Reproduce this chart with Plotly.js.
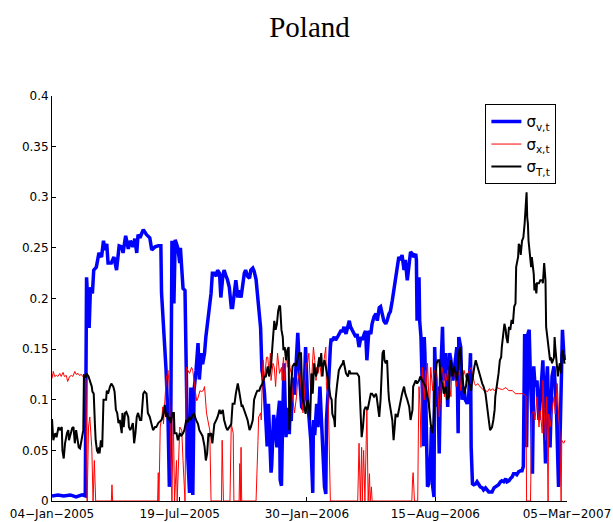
<!DOCTYPE html>
<html>
<head>
<meta charset="utf-8">
<script src="https://cdn.plot.ly/plotly-3.0.1.min.js"></script>
<style>html,body{margin:0;padding:0;background:#fff;}#chart{width:613px;height:522px;}</style>
</head>
<body>
<div id="chart"></div>
<script>
// x values: days since 04-Jan-2005
const tickDays = [0, 196, 391, 588, 790];
const tickLabels = ["04\u2212Jan\u22122005", "19\u2212Jul\u22122005", "30\u2212Jan\u22122006", "15\u2212Aug\u22122006", "05\u2212Mar\u22122007"];

const dayV = [0,9,18,28,37,46,51,53,57,59,62,64,68,72,76,79,81,84,86,91,95,99,103,107,109,113,117,120,124,127,130,132,135,140,145,150,153,158,163,167,168,171,175,178,180,182,184,185,187,189,193,196,197,201,204,206,208,211,213,216,218,221,224,226,229,231,234,236,239,241,244,246,249,252,254,257,259,262,264,267,269,272,275,277,280,282,285,287,290,292,295,297,300,303,305,308,310,313,315,318,320,322,323,326,328,330,332,333,336,337,340,342,345,346,349,350,352,354,356,359,361,364,365,367,369,372,374,377,378,380,383,386,389,392,397,400,401,403,406,408,411,413,416,418,420,421,424,425,427,428,430,433,435,438,440,443,446,448,451,453,456,458,461,463,466,468,471,474,476,479,481,483,485,486,489,491,494,497,499,502,504,507,509,512,514,517,519,522,525,527,530,532,535,537,540,542,545,548,550,553,555,558,559,560,563,564,566,568,570,571,572,574,575,576,578,581,582,584,586,587,590,592,594,596,599,601,604,605,607,610,612,615,617,621,623,624,627,629,632,634,637,639,642,643,645,647,650,652,655,657,660,662,665,668,670,673,675,678,680,683,685,688,690,693,696,698,701,703,706,708,711,713,716,719,721,723,725,727,728,730,732,734,736,737,739,741,744,747,749,751,753,755,757,758,760,762,764,767,770,772,774,776,777,779,781,783,785,786];
const sigmaV = [0.005,0.006,0.005,0.006,0.004,0.006,0.005,0.221,0.171,0.211,0.205,0.228,0.231,0.245,0.241,0.257,0.248,0.254,0.235,0.235,0.241,0.228,0.252,0.251,0.245,0.262,0.249,0.257,0.251,0.259,0.245,0.263,0.260,0.268,0.263,0.260,0.248,0.251,0.252,0.252,0.206,0.178,0.129,0.080,0.014,0.060,0.257,0.240,0.195,0.258,0.250,0.235,0.250,0.210,0.208,0.146,0.047,0.008,0.112,0.006,0.110,0.129,0.156,0.120,0.146,0.135,0.146,0.162,0.178,0.184,0.205,0.225,0.225,0.222,0.228,0.225,0.201,0.222,0.228,0.222,0.219,0.211,0.191,0.191,0.211,0.218,0.201,0.208,0.201,0.211,0.225,0.228,0.222,0.220,0.228,0.230,0.227,0.219,0.205,0.181,0.171,0.129,0.126,0.106,0.080,0.054,0.096,0.073,0.028,0.035,0.085,0.073,0.053,0.080,0.099,0.021,0.015,0.087,0.136,0.063,0.092,0.066,0.085,0.079,0.122,0.105,0.125,0.166,0.153,0.120,0.093,0.090,0.152,0.100,0.060,0.008,0.080,0.065,0.096,0.073,0.113,0.080,0.047,0.014,0.007,0.080,0.113,0.136,0.152,0.159,0.159,0.162,0.159,0.162,0.165,0.168,0.168,0.172,0.165,0.172,0.178,0.172,0.168,0.165,0.162,0.165,0.152,0.162,0.159,0.165,0.168,0.139,0.162,0.168,0.165,0.175,0.182,0.185,0.178,0.191,0.192,0.182,0.178,0.175,0.178,0.185,0.187,0.198,0.211,0.218,0.231,0.241,0.238,0.243,0.228,0.238,0.218,0.241,0.246,0.244,0.241,0.244,0.238,0.178,0.221,0.178,0.162,0.113,0.054,0.162,0.146,0.080,0.047,0.014,0.017,0.047,0.073,0.014,0.004,0.152,0.093,0.113,0.047,0.119,0.172,0.119,0.146,0.133,0.093,0.146,0.139,0.119,0.129,0.152,0.067,0.162,0.152,0.100,0.113,0.100,0.096,0.100,0.146,0.053,0.017,0.016,0.017,0.019,0.016,0.014,0.013,0.011,0.013,0.011,0.009,0.009,0.009,0.013,0.014,0.016,0.016,0.019,0.020,0.019,0.022,0.019,0.020,0.022,0.024,0.027,0.027,0.026,0.029,0.030,0.030,0.034,0.165,0.119,0.053,0.165,0.169,0.119,0.086,0.027,0.133,0.113,0.119,0.080,0.103,0.113,0.139,0.086,0.037,0.113,0.133,0.086,0.053,0.123,0.133,0.113,0.086,0.037,0.014,0.053,0.119,0.169,0.146,0.139];

const dayX = [0,2,4,7,9,12,14,17,19,22,24,27,30,32,35,37,40,42,45,47,50,52,54,56,58,61,63,65,67,91,92,93,162,163,164,166,169,170,171,175,177,178,180,181,182,184,186,188,191,192,196,199,201,204,206,209,211,214,216,219,222,224,227,229,232,234,237,239,242,244,260,261,263,273,275,276,278,279,287,288,289,290,291,313,316,317,320,321,323,324,326,329,331,333,335,336,339,341,343,345,346,349,352,353,355,357,358,360,362,363,365,367,369,372,375,377,380,382,385,387,390,392,394,397,400,401,403,405,406,408,411,413,415,418,420,421,423,424,426,427,469,471,473,475,476,478,480,481,483,485,487,488,490,491,552,553,554,556,561,562,563,565,566,568,571,573,574,576,579,581,584,586,589,591,594,597,598,600,602,603,605,607,609,612,613,615,617,620,622,625,627,630,632,635,637,640,643,645,648,650,653,655,658,660,663,665,668,671,673,676,678,681,683,686,691,696,701,706,711,716,722,727,728,734,736,739,741,744,747,749,752,753,755,757,759,761,762,764,767,770,772,775,777,779,781,782,785,787];
const sigmaX = [0.121,0.128,0.123,0.124,0.123,0.126,0.123,0.127,0.123,0.124,0.118,0.123,0.124,0.123,0.128,0.125,0.126,0.124,0.125,0.123,0.123,0.120,0,0.073,0.083,0.053,0,0.040,0,0,0.016,0,0,0.028,0,0.073,0.086,0.093,0.076,0.119,0.126,0.129,0.112,0.076,0.070,0,0.086,0,0.040,0,0.073,0.070,0.040,0,0.132,0.129,0.126,0.132,0.129,0.112,0.099,0.102,0.109,0.108,0.109,0.113,0.087,0.080,0.070,0,0,0.060,0,0,0.077,0.073,0.067,0,0,0.037,0,0.053,0,0,0.060,0.083,0.087,0.080,0.129,0.139,0.119,0.142,0.142,0.126,0.146,0.119,0.136,0.132,0.113,0.142,0.146,0.126,0.132,0.119,0.142,0.119,0.132,0.146,0.132,0.152,0.132,0.126,0.103,0.087,0.103,0.119,0.129,0.113,0.087,0.103,0.136,0.136,0.146,0.106,0.139,0.152,0.139,0.119,0.132,0.126,0.136,0.123,0.129,0.146,0.152,0.113,0.106,0.093,0.047,0,0,0.057,0,0.053,0,0.050,0,0.047,0.090,0,0.027,0,0.014,0,0,0.021,0.028,0,0,0.067,0.113,0.087,0.053,0.132,0.100,0.129,0.113,0.136,0.087,0.132,0.109,0.126,0.132,0.119,0.083,0.113,0.132,0.126,0.103,0.126,0.119,0.129,0.119,0.103,0.129,0.126,0.132,0.113,0.123,0.129,0.109,0.119,0.129,0.122,0.124,0.129,0.132,0.126,0.116,0.114,0.116,0.114,0.112,0.111,0.109,0.109,0.108,0.111,0.109,0.111,0.109,0.110,0.112,0.111,0.110,0.112,0.109,0.109,0.106,0.106,0.106,0.104,0,0,0.086,0.089,0.080,0.103,0.073,0.089,0.067,0.119,0.086,0.060,0.103,0,0.086,0.073,0.089,0.103,0.086,0.116,0.086,0.067,0,0.060,0.057,0.060];

const dayT = [0,2,5,7,10,12,15,16,18,20,23,25,26,29,31,33,35,37,39,41,43,45,48,49,52,53,56,58,61,62,64,66,67,69,71,72,73,75,77,79,81,83,84,86,89,91,94,96,98,100,102,104,107,108,110,112,114,117,118,120,122,124,126,128,130,132,135,137,140,142,145,147,150,153,155,158,160,163,165,168,170,173,175,177,178,180,182,183,185,187,188,191,193,196,198,201,203,206,208,211,213,216,218,221,224,226,229,231,234,236,238,240,241,244,246,249,252,254,257,259,262,264,267,269,272,275,277,280,282,285,287,289,291,292,295,297,300,303,305,308,310,313,315,318,320,323,326,328,331,333,336,338,341,343,345,347,349,350,352,354,355,357,359,361,363,364,366,369,372,374,377,379,382,384,387,389,392,394,396,398,400,402,405,407,410,411,413,415,416,418,420,423,425,427,429,430,433,434,435,437,439,440,443,446,447,449,451,454,456,458,461,464,468,471,473,474,475,477,479,481,484,486,489,491,494,497,498,500,502,504,505,507,509,510,512,514,516,517,522,524,526,527,530,532,535,537,540,542,545,548,550,553,554,556,558,560,563,565,568,571,573,576,578,581,583,585,588,590,592,594,596,597,599,601,604,606,609,610,612,614,617,621,623,624,626,629,631,632,635,637,640,643,644,646,648,650,653,655,657,660,662,665,668,670,672,675,677,679,680,683,685,687,689,690,692,694,696,697,699,701,703,705,707,709,711,712,715,716,718,719,721,723,725,726,728,729,730,731,733,735,736,738,739,740,741,743,744,747,749,752,753,755,757,758,760,762,764,765,767,770,771,772,774,776,777,779,781,782,784,786,787];
const sigmaT = [0.081,0.060,0.067,0.063,0.073,0.070,0.073,0.050,0.042,0.057,0.067,0.070,0.060,0.067,0.072,0.073,0.057,0.070,0.060,0.053,0.052,0.060,0.070,0.124,0.123,0.126,0.123,0.119,0.113,0.108,0.106,0.073,0.060,0.050,0.047,0.053,0.047,0.060,0.053,0.100,0.100,0.100,0.109,0.106,0.113,0.116,0.113,0.108,0.090,0.087,0.077,0.080,0.067,0.087,0.073,0.087,0.088,0.083,0.073,0.070,0.073,0.077,0.057,0.067,0.083,0.087,0.080,0.080,0.106,0.108,0.106,0.087,0.083,0.073,0.070,0.073,0.073,0.077,0.078,0.080,0.083,0.095,0.083,0.087,0.080,0.083,0.077,0.080,0.087,0.087,0.067,0.067,0.060,0.067,0.064,0.067,0.070,0.080,0.078,0.083,0.080,0.085,0.086,0.080,0.076,0.070,0.067,0.064,0.054,0.040,0.047,0.067,0.064,0.067,0.057,0.076,0.080,0.083,0.090,0.086,0.090,0.080,0.073,0.070,0.073,0.076,0.096,0.096,0.106,0.116,0.109,0.100,0.093,0.095,0.090,0.086,0.080,0.070,0.073,0.080,0.100,0.106,0.109,0.109,0.113,0.116,0.123,0.123,0.133,0.123,0.133,0.152,0.178,0.169,0.175,0.188,0.193,0.192,0.169,0.162,0.149,0.152,0.139,0.149,0.152,0.070,0.106,0.133,0.136,0.133,0.142,0.146,0.146,0.103,0.093,0.086,0.100,0.093,0.080,0.126,0.106,0.136,0.123,0.129,0.142,0.133,0.146,0.123,0.133,0.139,0.133,0.123,0.113,0.103,0.100,0.086,0.080,0.073,0.100,0.113,0.126,0.129,0.133,0.136,0.139,0.133,0.126,0.123,0.129,0.126,0.126,0.126,0.126,0.123,0.093,0.073,0.063,0.073,0.090,0.093,0.090,0.096,0.106,0.106,0.103,0.106,0.103,0.093,0.083,0.100,0.113,0.146,0.149,0.139,0.136,0.139,0.109,0.100,0.080,0.060,0.076,0.086,0.083,0.090,0.103,0.106,0.113,0.106,0.100,0.093,0.080,0.090,0.113,0.116,0.119,0.116,0.119,0.123,0.119,0.116,0.113,0.103,0.096,0.076,0.067,0.076,0.123,0.136,0.139,0.139,0.126,0.119,0.116,0.106,0.113,0.100,0.103,0.133,0.139,0.123,0.133,0.119,0.133,0.146,0.152,0.129,0.113,0.106,0.113,0.126,0.116,0.109,0.116,0.126,0.133,0.139,0.133,0.129,0.123,0.116,0.113,0.106,0.093,0.080,0.070,0.073,0.080,0.090,0.103,0.116,0.126,0.139,0.142,0.152,0.165,0.175,0.169,0.162,0.156,0.172,0.169,0.179,0.175,0.192,0.195,0.231,0.241,0.254,0.251,0.243,0.257,0.260,0.274,0.287,0.305,0.280,0.274,0.257,0.244,0.231,0.241,0.228,0.224,0.208,0.215,0.205,0.215,0.215,0.218,0.218,0.215,0.235,0.218,0.172,0.162,0.152,0.139,0.142,0.136,0.142,0.162,0.152,0.133,0.123,0.129,0.136,0.126,0.146,0.149,0.136,0.137];

const seriesNames = ["\u03c3<sub>v,t</sub>", "\u03c3<sub>x,t</sub>", "\u03c3<sub>T,t</sub>"];

const traces = [
  {x: dayV, y: sigmaV, name: seriesNames[0], type: "scatter", mode: "lines", line: {color: "#0000ff", width: 3.5}},
  {x: dayX, y: sigmaX, name: seriesNames[1], type: "scatter", mode: "lines", line: {color: "#ff0000", width: 1}},
  {x: dayT, y: sigmaT, name: seriesNames[2], type: "scatter", mode: "lines", line: {color: "#000000", width: 2}}
];

const tickFont = {family: "DejaVu Sans, sans-serif", size: 12, color: "#000"};

const layout = {
  width: 613, height: 522,
  margin: {l: 52, r: 46, t: 96, b: 21, pad: 0},
  paper_bgcolor: "#fff", plot_bgcolor: "#fff",
  title: {text: "Poland", font: {family: "Liberation Serif, serif", size: 29, color: "#000"},
          x: 0.5, xref: "paper", y: 0.948, yref: "container", yanchor: "middle"},
  showlegend: true,
  legend: {x: 0.979, xanchor: "right", y: 0.98, yanchor: "top", bgcolor: "#fff",
           bordercolor: "#000", borderwidth: 1.2, font: {family: "DejaVu Sans, sans-serif", size: 15, color: "#000"}},
  xaxis: {range: [0, 790], tickmode: "array", tickvals: tickDays, ticktext: tickLabels,
          ticks: "inside", ticklen: 4, tickcolor: "#000", showline: true, linecolor: "#000", linewidth: 1,
          showgrid: false, zeroline: false, tickfont: tickFont, ticklabelstandoff: 2, fixedrange: true},
  yaxis: {range: [0, 0.4], tick0: 0, dtick: 0.05, ticks: "inside", ticklen: 4, tickcolor: "#000",
          showline: true, linecolor: "#000", linewidth: 1, showgrid: false, zeroline: false,
          tickfont: tickFont, fixedrange: true}
};

Plotly.newPlot("chart", traces, layout, {staticPlot: true, displayModeBar: false});
</script>
</body>
</html>
